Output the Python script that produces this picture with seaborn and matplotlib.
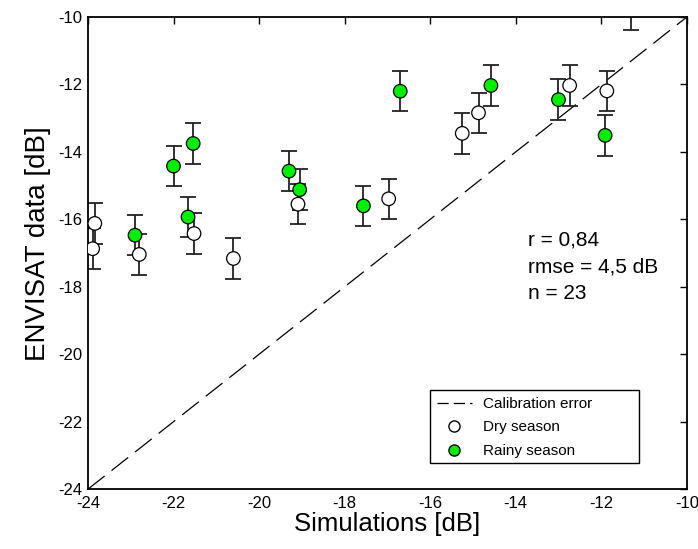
import matplotlib
matplotlib.use('Agg')
import matplotlib.pyplot as plt
import numpy as np
import pandas as pd
import seaborn as sns
from matplotlib.lines import Line2D
from matplotlib.patches import Rectangle

# dry season points (simulation, ENVISAT)
dry_sim = [-23.84, -23.89, -22.80, -21.52, -20.60, -19.09, -16.97,
           -15.25, -14.87, -12.74, -11.87, -11.30]
dry_obs = [-16.12, -16.87, -17.04, -16.42, -17.16, -15.55, -15.39,
           -13.45, -12.84, -12.03, -12.19, -9.79]

# rainy season points
rainy_sim = [-22.90, -22.00, -21.66, -21.54, -19.30, -19.05, -17.56,
             -16.70, -14.58, -13.00, -11.91]
rainy_obs = [-16.47, -14.42, -15.93, -13.75, -14.57, -15.12, -15.60,
             -12.20, -12.03, -12.45, -13.51]

err = 0.6
ticks = [-24, -22, -20, -18, -16, -14, -12, -10]
stats_lines = ['r = 0,84', 'rmse = 4,5 dB', 'n = 23']
legend_labels = ['Calibration error', 'Dry season', 'Rainy season']

sns.set_style('white')
plt.rcParams['font.family'] = ['Liberation Sans', 'DejaVu Sans']
plt.rcParams['axes.unicode_minus'] = False
plt.rcParams['text.color'] = 'black'
plt.rcParams['axes.labelcolor'] = 'black'
plt.rcParams['xtick.color'] = 'black'
plt.rcParams['ytick.color'] = 'black'

df = pd.DataFrame({
    'sim': dry_sim + rainy_sim,
    'obs': dry_obs + rainy_obs,
    'season': ['Dry season'] * len(dry_sim) + ['Rainy season'] * len(rainy_sim),
})

fig = plt.figure(figsize=(6.98, 5.49), dpi=100)
ax = fig.add_axes([0.126, 0.109, 0.858, 0.860])

# 1:1 calibration line
ax.plot([-24, -10], [-24, -10], color='black', lw=0.9, dashes=(17, 7), zorder=1)

ax.errorbar(df['sim'], df['obs'], yerr=err, fmt='none', ecolor='#222222',
            elinewidth=1.3, capsize=5.5, capthick=1.3, zorder=2)

palette = {'Dry season': 'white', 'Rainy season': '#00ee00'}
sns.scatterplot(data=df, x='sim', y='obs', hue='season', palette=palette,
                s=95, edgecolor='black', linewidth=0.9, legend=False,
                ax=ax, zorder=3)

ax.set_xlim(-24, -10)
ax.set_ylim(-24, -10)
ax.set_xticks(ticks)
ax.set_yticks(ticks)
ax.tick_params(direction='in', length=5, width=1, top=True, right=True,
               labelsize=12)
ax.tick_params(axis='x', pad=5)
ax.tick_params(axis='y', pad=4)
for s in ax.spines.values():
    s.set_linewidth(1.3)
    s.set_color('black')

ax.set_xlabel('Simulations [dB]', fontsize=18.5, labelpad=1)
ax.set_ylabel('ENVISAT data [dB]', fontsize=20, labelpad=4)
ax.yaxis.set_label_coords(-0.062, 0.52)

for i, t in enumerate(stats_lines):
    ax.text(-13.72, -16.6 - i * 0.8, t, fontsize=15, va='center', ha='left')

handles = [
    Line2D([0], [0], color='black', lw=0.9, dashes=(9, 4)),
    Line2D([0], [0], marker='o', color='none', markerfacecolor='white',
           markeredgecolor='black', markersize=8),
    Line2D([0], [0], marker='o', color='none', markerfacecolor='#00ee00',
           markeredgecolor='black', markersize=8),
]
leg = ax.legend(handles, legend_labels, loc='upper left',
                bbox_to_anchor=(0.575, 0.205), fontsize=11, frameon=False,
                handlelength=2.3, borderpad=0.3, labelspacing=0.62,
                handletextpad=0.7, borderaxespad=0)
ax.add_patch(Rectangle((0.571, 0.055), 0.349, 0.155, transform=ax.transAxes,
                       fill=False, edgecolor='black', lw=1.0, zorder=5))

fig.savefig('out.png', dpi=100, facecolor='white')
